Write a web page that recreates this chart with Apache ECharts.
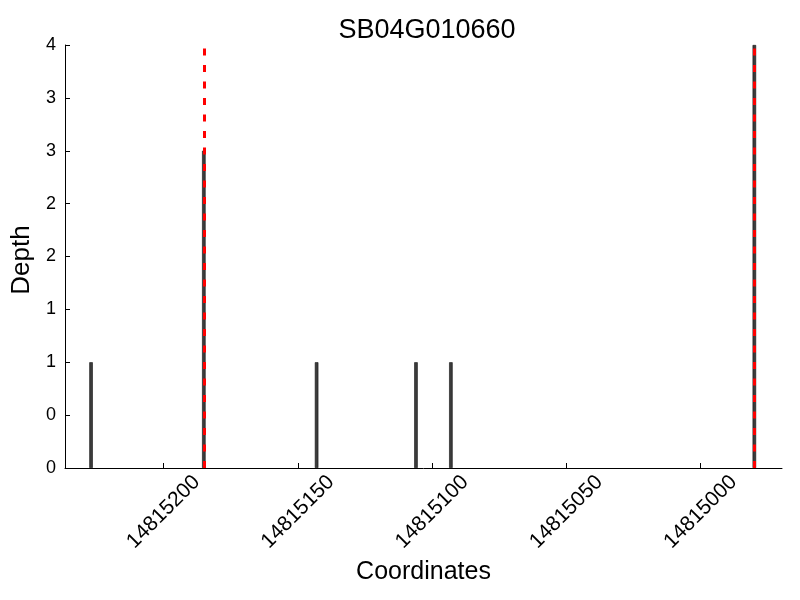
<!DOCTYPE html>
<html>
<head>
<meta charset="utf-8">
<script src="https://cdn.jsdelivr.net/npm/echarts@6/dist/echarts.min.js"></script>
<style>html,body{margin:0;padding:0;background:#fff}#c{width:800px;height:600px}</style>
</head>
<body>
<div id="c"></div>
<script>
const title = 'SB04G010660';
const coords = [14815227, 14815185, 14815143, 14815106, 14815093, 14814980];
const depths = [1, 3, 1, 1, 1, 4];
const markers = [14815185, 14814980];
const xTicks = [14815200, 14815150, 14815100, 14815050, 14815000];

const FONT = 'Liberation Sans';
const chart = echarts.init(document.getElementById('c'), null, {renderer: 'canvas'});
chart.setOption({
  animation: false,
  backgroundColor: '#fff',
  title: {
    text: title, left: 422, top: 12, textAlign: 'center',
    textStyle: {fontFamily: FONT, fontSize: 27, fontWeight: 'normal', color: '#000'}
  },
  grid: {left: 65, right: 18, top: 45, bottom: 132, containLabel: false},
  xAxis: {
    type: 'value', inverse: true,
    min: 14814969.7, max: 14815236.7,
    name: 'Coordinates', nameLocation: 'middle', nameGap: 88,
    nameTextStyle: {fontFamily: FONT, fontSize: 25, color: '#000'},
    axisLine: {lineStyle: {color: '#000', width: 1}},
    axisTick: {show: true, inside: true, length: 5, lineStyle: {color: '#000'}, customValues: xTicks},
    axisLabel: {
      customValues: xTicks, rotate: 45, align: 'center', verticalAlign: 'middle', margin: 44,
      fontFamily: FONT, fontSize: 21, color: '#000', formatter: v => String(v)
    },
    splitLine: {show: false}
  },
  yAxis: {
    type: 'value', min: 0, max: 4, interval: 0.5,
    name: 'Depth', nameLocation: 'middle', nameGap: 28, nameRotate: 90,
    nameTextStyle: {fontFamily: FONT, fontSize: 26, color: '#000', padding: [0, 7, 0, 0]},
    axisLine: {show: true, lineStyle: {color: '#000', width: 1}},
    axisTick: {show: true, inside: true, length: 5, lineStyle: {color: '#000'}},
    axisLabel: {fontFamily: FONT, fontSize: 18, color: '#000', margin: 9,
      formatter: v => String(Math.floor(v))},
    splitLine: {show: false}
  },
  series: [{
    type: 'bar',
    data: coords.map((c, i) => [c, depths[i]]),
    barWidth: 3.5,
    itemStyle: {color: '#3c3c3c', borderColor: '#111', borderWidth: 0.6},
    markLine: {
      silent: true, symbol: 'none', label: {show: false},
      lineStyle: {color: '#ff0000', type: [7, 9.5], width: 3},
      data: markers.map(m => ({xAxis: m}))
    }
  }]
});
</script>
</body>
</html>
